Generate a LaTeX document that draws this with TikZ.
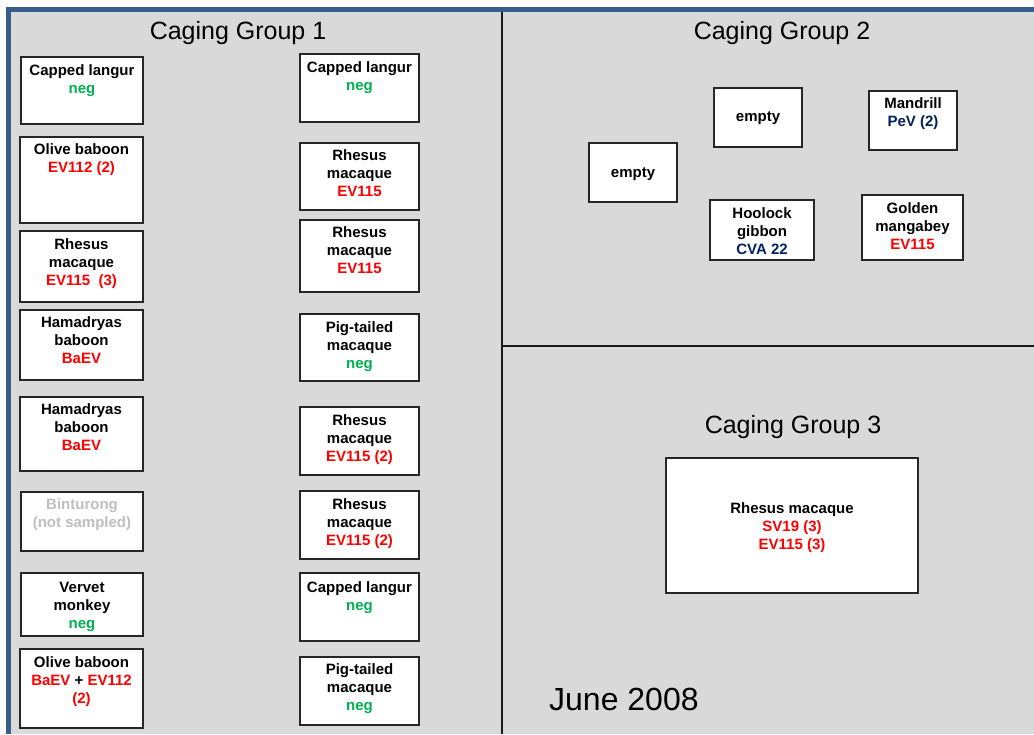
\documentclass[tikz,border=0pt]{standalone}
\usepackage{fontspec}
\setmainfont{Liberation Sans}
\definecolor{bggray}{RGB}{217,217,217}
\definecolor{frameblue}{RGB}{56,93,138}
\definecolor{posred}{RGB}{255,0,0}
\definecolor{neggreen}{RGB}{0,176,80}
\definecolor{navy}{RGB}{0,32,96}
\definecolor{nsgray}{RGB}{191,191,191}
\newcommand\pos[1]{\textcolor{posred}{#1}}
\newcommand\ngv[1]{\textcolor{neggreen}{#1}}
\newcommand\nav[1]{\textcolor{navy}{#1}}
% \cage{name}{x1}{y1}{x2}{y2}{y of first text line}{text}
\newcommand\cage[7]{%
  \node[cagebox, minimum width={(#4-#2)*1pt}, minimum height={(#5-#3)*1pt}] (#1) at ({(#2+#4)/2},{(#3+#5)/2}) {};
  \node[cagetext] (#1t) at ({(#2+#4)/2},{#6-7.2}) {\strut #7};
}
\begin{document}
\begin{tikzpicture}[x=1pt,y=-1pt,
  cagebox/.style={draw=black!85, fill=white, line width=1.4pt, inner sep=0pt, rectangle},
  cagetext/.style={anchor=north, inner sep=0pt, align=center, font=\fontsize{15}{18}\selectfont\bfseries},
  title/.style={font=\fontsize{25}{30}\selectfont, inner sep=0pt},
  divider/.style={draw=black!90, line width=2pt}]
\useasboundingbox (0,0) rectangle (1034,734);
\fill[white] (0,0) rectangle (1034,734);
\fill[bggray] (8,9) rectangle (1034,734);
% frame
\draw[frameblue, line width=4.5pt] (8.5,734) -- (8.5,9.5) -- (1034,9.5);
\coordinate (vtop) at (502,12);
\coordinate (vbot) at (502,734);
\coordinate (hl) at (502,346);
\coordinate (hr) at (1034,346);
\draw[divider] (vtop) -- (vbot);
\draw[divider] (hl) -- (hr);
% titles
\node[title] (t1) at (238,33) {Caging Group 1};
\node[title] (t2) at (782,33) {Caging Group 2};
\node[title] (t3) at (793,427) {Caging Group 3};
\node[font=\fontsize{32}{38}\selectfont, inner sep=0pt, anchor=west] (date) at (549,699) {June 2008};
% group 1 left column
\cage{L1}{21}{57}{143}{124}{70}{Capped langur\\ \ngv{neg}}
\cage{L2}{20}{137}{143}{223}{149}{Olive baboon\\ \pos{EV112 (2)}}
\cage{L3}{20}{231}{143}{302}{244}{Rhesus\\ macaque\\ \pos{EV115~ (3)}}
\cage{L4}{20}{310}{143}{380}{322}{Hamadryas\\ baboon\\ \pos{BaEV}}
\cage{L5}{20}{397}{143}{471}{409}{Hamadryas\\ baboon\\ \pos{BaEV}}
\cage{L6}{21}{492}{143}{551}{504}{\textcolor{nsgray}{Binturong}\\ \textcolor{nsgray}{(not sampled)}}
\cage{L7}{21}{573}{143}{636}{587}{Vervet\\ monkey\\ \ngv{neg}}
\cage{L8}{20}{649}{143}{728}{662}{Olive baboon\\ \pos{BaEV} + \pos{EV112}\\ \pos{(2)}}
% group 1 right column
\cage{R1}{300}{54}{419}{122}{67}{Capped langur\\ \ngv{neg}}
\cage{R2}{300}{143}{419}{210}{155}{Rhesus\\ macaque\\ \pos{EV115}}
\cage{R3}{300}{220}{419}{292}{232}{Rhesus\\ macaque\\ \pos{EV115}}
\cage{R4}{300}{314}{419}{381}{327}{Pig-tailed\\ macaque\\ \ngv{neg}}
\cage{R5}{300}{407}{419}{475}{420}{Rhesus\\ macaque\\ \pos{EV115 (2)}}
\cage{R6}{300}{491}{419}{559}{504}{Rhesus\\ macaque\\ \pos{EV115 (2)}}
\cage{R7}{300}{573}{419}{641}{587}{Capped langur\\ \ngv{neg}}
\cage{R8}{300}{657}{419}{725}{669}{Pig-tailed\\ macaque\\ \ngv{neg}}
% group 2
\cage{E1}{589}{143}{677}{202}{172}{empty}
\cage{E2}{714}{88}{802}{147}{116}{empty}
\cage{M1}{869}{91}{957}{150}{103}{Mandrill\\ \nav{PeV (2)}}
\cage{H1}{710}{200}{814}{260}{213}{Hoolock\\ gibbon\\ \nav{CVA 22}}
\cage{G1}{862}{195}{963}{260}{208}{Golden\\ mangabey\\ \pos{EV115}}
% group 3
\cage{RM}{666}{458}{918}{593}{508}{Rhesus macaque\\ \pos{SV19 (3)}\\ \pos{EV115 (3)}}
\end{tikzpicture}
\end{document}
